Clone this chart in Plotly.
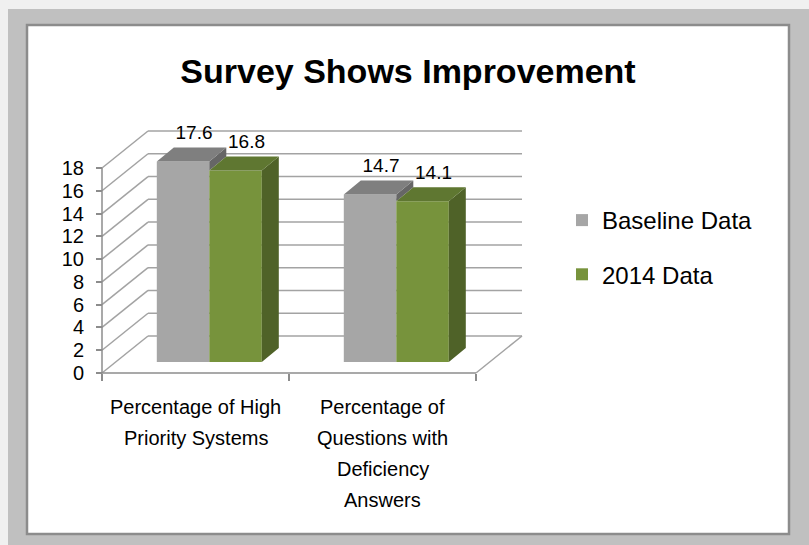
import plotly.graph_objects as go

# ---------------- data ----------------
category_lines = [
    ["Percentage of High", "Priority Systems"],
    ["Percentage of", "Questions with", "Deficiency", "Answers"],
]
series_names = ["Baseline Data", "2014 Data"]
baseline_values = [17.6, 14.7]
data_2014_values = [16.8, 14.1]
y_ticks = [0, 2, 4, 6, 8, 10, 12, 14, 16, 18]
chart_title = "Survey Shows Improvement"

series_values = [baseline_values, data_2014_values]
front_colors = ["#A6A6A6", "#77933C"]
top_colors = ["#7F7F7F", "#5F7731"]
side_colors = ["#666666", "#4F6228"]

# ---------------- geometry (pixel calibration) ----------------
W, H = 809, 545
AX_L_PX = 102.0          # pixel x of the value axis
AX_B_PX = 373.0          # pixel y of value 0
PX_X = 187.0             # pixels per category
PX_Y = 205.0 / 18.0      # pixels per value unit

x_range = [-0.5 - AX_L_PX / PX_X, -0.5 + (W - AX_L_PX) / PX_X]
y_range = [-(H - AX_B_PX) / PX_Y, AX_B_PX / PX_Y]

DX = 46.0 / PX_X          # wall depth in x units
DY = 37.0 / PX_Y          # wall depth in y units
bx, by = 0.3 * DX, 0.3 * DY   # bar front plane offset
ddx, ddy = 17.0 / PX_X, 14.0 / PX_Y  # bar depth
bw = 52.5 / PX_X          # bar width

n_cat = len(category_lines)
x_left, x_right = -0.5, n_cat - 0.5
n_ser = len(series_values)

fig = go.Figure()

# front faces (bars)
for k, (name, vals) in enumerate(zip(series_names, series_values)):
    xs = [i + (k - (n_ser - 1) / 2) * bw + bx for i in range(n_cat)]
    fig.add_trace(go.Bar(
        x=xs, y=vals, base=by, width=bw, name=name,
        marker=dict(color=front_colors[k], line=dict(width=0)),
        legendgroup=name, hoverinfo="name+y",
    ))

# top and side faces
for k, vals in enumerate(series_values):
    tx, ty, sx, sy = [], [], [], []
    for i, h in enumerate(vals):
        xc = i + (k - (n_ser - 1) / 2) * bw + bx
        x0, x1 = xc - bw / 2, xc + bw / 2
        tx += [x0, x1, x1 + ddx, x0 + ddx, x0, None]
        ty += [by + h, by + h, by + h + ddy, by + h + ddy, by + h, None]
        h_low = series_values[k + 1][i] if k + 1 < n_ser else 0.0
        if h_low < h:
            sx += [x1, x1, x1 + ddx, x1 + ddx, x1, None]
            sy += [by + h_low, by + h, by + h + ddy, by + h_low + ddy, by + h_low, None]
    fig.add_trace(go.Scatter(x=sx, y=sy, mode="lines", fill="toself",
                             fillcolor=side_colors[k], line=dict(width=0),
                             showlegend=False, hoverinfo="skip"))
    fig.add_trace(go.Scatter(x=tx, y=ty, mode="lines", fill="toself",
                             fillcolor=top_colors[k], line=dict(width=0),
                             showlegend=False, hoverinfo="skip"))

# data labels
for k, vals in enumerate(series_values):
    xs = [i + (k - (n_ser - 1) / 2) * bw + bx + ddx / 2 + 2.5 / PX_X for i in range(n_cat)]
    ys = [by + h + ddy + 4.0 / PX_Y for h in vals]
    fig.add_trace(go.Scatter(
        x=xs, y=ys, mode="text", text=[f"{v:.1f}" for v in vals],
        textposition="top center",
        textfont=dict(family="Liberation Sans, Arial, sans-serif", size=19, color="#000000"),
        showlegend=False, hoverinfo="skip", cliponaxis=False,
    ))

# ---------------- frame shapes ----------------
shapes = []
shapes.append(dict(type="rect", xref="paper", yref="paper", x0=8 / W, x1=1, y0=0, y1=1 - 9 / H,
                   fillcolor="#C0C0C0", line=dict(width=0), layer="below"))
shapes.append(dict(type="rect", xref="paper", yref="paper", x0=27 / W, x1=789 / W,
                   y0=1 - 534 / H, y1=1 - 25 / H,
                   fillcolor="#FFFFFF", line=dict(color="#8C8C8C", width=2.5), layer="below"))

grid_col = "#A3A3A3"
for v in y_ticks:
    # side wall diagonal
    shapes.append(dict(type="line", xref="x", yref="y", x0=x_left, y0=v, x1=x_left + DX, y1=v + DY,
                       line=dict(color=grid_col, width=1.5), layer="below"))
    # back wall horizontal
    shapes.append(dict(type="line", xref="x", yref="y", x0=x_left + DX, y0=v + DY, x1=x_right + DX, y1=v + DY,
                       line=dict(color=grid_col, width=1.5), layer="below"))
# floor right edge
shapes.append(dict(type="line", xref="x", yref="y", x0=x_right, y0=0, x1=x_right + DX, y1=DY,
                   line=dict(color=grid_col, width=1.5), layer="below"))
# axis lines
shapes.append(dict(type="line", xref="x", yref="y", x0=x_left, y0=0, x1=x_right, y1=0,
                   line=dict(color="#8C8C8C", width=1.5), layer="below"))
shapes.append(dict(type="line", xref="x", yref="y", x0=x_left, y0=0, x1=x_left, y1=max(y_ticks),
                   line=dict(color="#8C8C8C", width=1.5), layer="below"))

# ---------------- category labels ----------------
annotations = []
for i, lines in enumerate(category_lines):
    for j, line in enumerate(lines):
        annotations.append(dict(
            x=i, xref="x", y=1 - (407 + 31 * j) / H, yref="paper",
            text=line, showarrow=False, xanchor="center", yanchor="middle",
            font=dict(family="Liberation Sans, Arial, sans-serif", size=20, color="#000000"),
        ))

fig.update_layout(
    width=W, height=H,
    margin=dict(l=0, r=0, t=0, b=0),
    paper_bgcolor="#F0F0F0",
    plot_bgcolor="rgba(0,0,0,0)",
    barmode="overlay",
    title=dict(text=f"<b>{chart_title}</b>", x=408 / W, xanchor="center",
               y=1 - 71 / H, yanchor="middle", yref="container",
               font=dict(family="Liberation Sans, Arial, sans-serif", size=34, color="#000000")),
    xaxis=dict(range=x_range, domain=[0, 1], anchor="free", position=1 - AX_B_PX / H,
               tickvals=[x_left + i for i in range(n_cat + 1)], ticktext=[""] * (n_cat + 1),
               ticks="outside", ticklen=7, tickwidth=1.5, tickcolor="#8C8C8C",
               showgrid=False, zeroline=False, showline=False, fixedrange=True),
    yaxis=dict(range=y_range, domain=[0, 1], anchor="free", position=AX_L_PX / W,
               tickvals=y_ticks, ticks="outside", ticklen=6, tickwidth=1.5, tickcolor="#8C8C8C",
               ticklabelstandoff=8,
               tickfont=dict(family="Liberation Sans, Arial, sans-serif", size=20, color="#000000"),
               showgrid=False, zeroline=False, showline=False, fixedrange=True),
    legend=dict(x=562 / W, y=1 - 198 / H, xanchor="left", yanchor="top",
                traceorder="grouped", tracegroupgap=20, bgcolor="rgba(0,0,0,0)",
                font=dict(family="Liberation Sans, Arial, sans-serif", size=24, color="#000000")),
    shapes=shapes,
    annotations=annotations,
    showlegend=True,
)

fig.write_html("out.html")
